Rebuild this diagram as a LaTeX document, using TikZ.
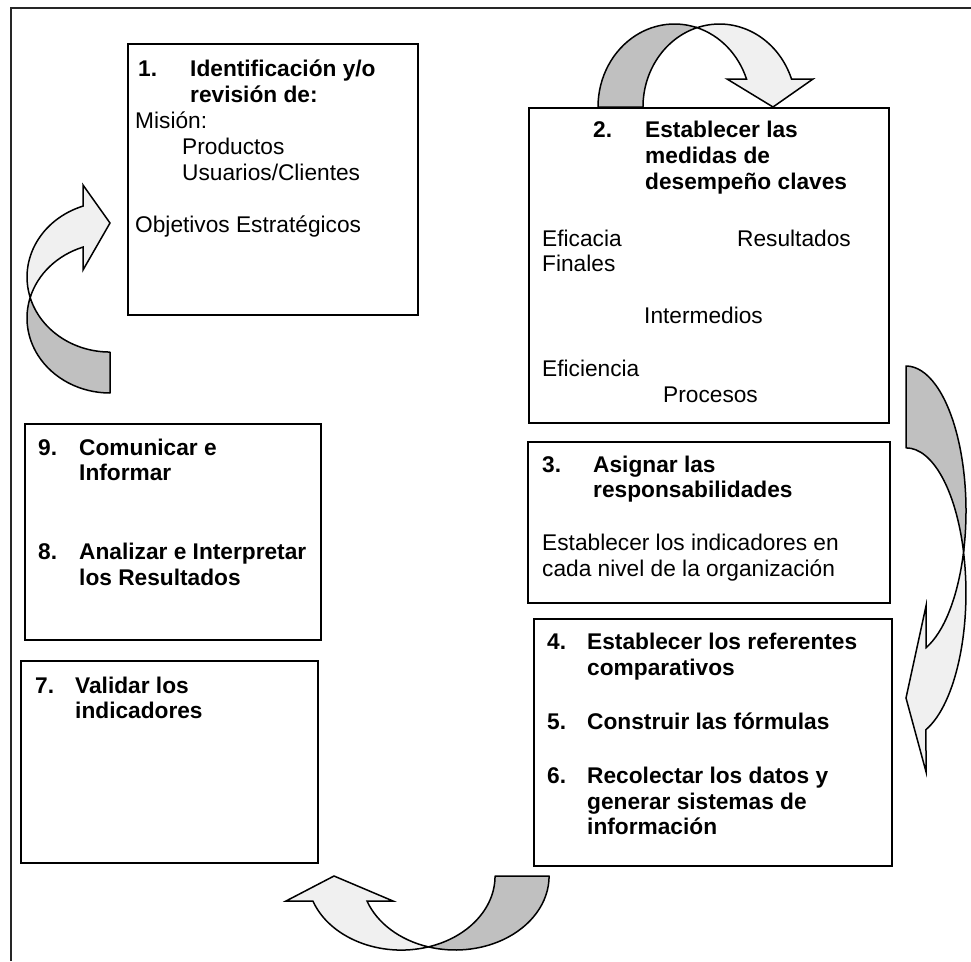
\documentclass[tikz,border=0pt]{standalone}
\usepackage{fontspec}
\setmainfont{Liberation Sans}
\definecolor{arrowdark}{RGB}{192,192,192}
\definecolor{arrowlight}{RGB}{240,240,240}
\begin{document}
\begin{tikzpicture}[x=1pt,y=-1pt,
  box/.style={draw, line width=1.8pt, inner sep=0, anchor=north west},
  txt/.style={anchor=base west, inner sep=0, font=\fontsize{22.7}{26}\selectfont},
  btxt/.style={anchor=base west, inner sep=0, font=\fontsize{22.7}{26}\selectfont\bfseries},
  backband/.style={fill=arrowdark, draw, line width=1.5pt, line join=round},
  frontband/.style={fill=arrowlight, draw, line width=1.5pt, line join=miter}]
\useasboundingbox (0,0) rectangle (971,961);
% outer frame
\draw[line width=1.6pt, black!85] (11,961) -- (11,8) -- (971,8);

% boxes
\node[box, minimum width=290, minimum height=271] (b1) at (127,43) {};
\node[box, minimum width=360, minimum height=315] (b2) at (528,107) {};
\node[box, minimum width=362, minimum height=161] (b3) at (527,441) {};
\node[box, minimum width=358, minimum height=247] (b4) at (533,618) {};
\node[box, minimum width=296, minimum height=216] (b98) at (24,423) {};
\node[box, minimum width=297, minimum height=202] (b7) at (20,660) {};

% box 1
\node[btxt] (t1n) at (138,76) {1.};
\node[btxt] (t1a) at (190,76) {Identificación y/o};
\node[btxt] (t1b) at (190,102) {revisión de:};
\node[txt] (t1c) at (135,128) {Misión:};
\node[txt] (t1d) at (182,154) {Productos};
\node[txt] (t1e) at (182,180) {Usuarios/Clientes};
\node[txt] (t1f) at (135,232) {Objetivos Estratégicos};

% box 2
\node[btxt] (t2n) at (593,137) {2.};
\node[btxt] (t2a) at (645,137) {Establecer las};
\node[btxt] (t2b) at (645,163) {medidas de};
\node[btxt] (t2c) at (645,189) {desempeño claves};
\node[txt] (t2d) at (542,246) {Eficacia};
\node[txt] (t2e) at (737,246) {Resultados};
\node[txt] (t2f) at (542,271) {Finales};
\node[txt] (t2g) at (644,323) {Intermedios};
\node[txt] (t2h) at (542,376) {Eficiencia};
\node[txt] (t2i) at (663,402) {Procesos};

% box 3
\node[btxt] (t3n) at (542,472) {3.};
\node[btxt] (t3a) at (593,472) {Asignar las};
\node[btxt] (t3b) at (593,497) {responsabilidades};
\node[txt] (t3c) at (542,550) {Establecer los indicadores en};
\node[txt] (t3d) at (542,576) {cada nivel de la organización};

% box 4
\node[btxt] (t4n) at (547,649) {4.};
\node[btxt] (t4a) at (587,649) {Establecer los referentes};
\node[btxt] (t4b) at (587,675) {comparativos};
\node[btxt] (t5n) at (547,729) {5.};
\node[btxt] (t5a) at (587,729) {Construir las fórmulas};
\node[btxt] (t6n) at (547,783) {6.};
\node[btxt] (t6a) at (587,783) {Recolectar los datos y};
\node[btxt] (t6b) at (587,809) {generar sistemas de};
\node[btxt] (t6c) at (587,834) {información};

% box 9/8
\node[btxt] (t9n) at (38,455) {9.};
\node[btxt] (t9a) at (79,455) {Comunicar e};
\node[btxt] (t9b) at (79,480) {Informar};
\node[btxt] (t8n) at (38,559) {8.};
\node[btxt] (t8a) at (79,559) {Analizar e Interpretar};
\node[btxt] (t8b) at (79,585) {los Resultados};

% box 7
\node[btxt] (t7n) at (35,693) {7.};
\node[btxt] (t7a) at (75,693) {Validar los};
\node[btxt] (t7b) at (75,718) {indicadores};

% top curved arrow (down)
\draw[backband] (598,107) arc[start angle=180, end angle=287.1, x radius=76.5, y radius=83]
  arc[start angle=252.9, end angle=180, x radius=76.5, y radius=83] -- cycle;
\draw[frontband] (697,27.7) arc[start angle=252.9, end angle=340.3, x radius=76.5, y radius=83]
  -- (813,79) -- (773,107) -- (727,79) -- (746.5,79)
  arc[start angle=340.3, end angle=287.1, x radius=76.5, y radius=83] -- cycle;

% left curved arrow (right)
\draw[backband] (110,393) arc[start angle=90, end angle=195.85, x radius=83, y radius=75]
  arc[start angle=164.15, end angle=90, x radius=83, y radius=75] -- cycle;
\draw[frontband] (30.2,297.5) arc[start angle=164.15, end angle=251, x radius=83, y radius=75]
  -- (83,185) -- (110,223) -- (83,270) -- (83,247.1)
  arc[start angle=251, end angle=195.85, x radius=83, y radius=75] -- cycle;

% right curved arrow (left)
\draw[backband] (906,366) arc[start angle=270, end angle=376.4, x radius=60, y radius=145]
  arc[start angle=343.6, end angle=270, x radius=60, y radius=145] -- cycle;
\draw[frontband] (963.5,552) arc[start angle=-16.4, end angle=70.5, x radius=60, y radius=145]
  -- (926,771.7) -- (906,698) -- (926,606) -- (926,647.7)
  arc[start angle=70.5, end angle=16.4, x radius=60, y radius=145] -- cycle;

% bottom curved arrow (up)
\draw[backband] (549.1,876) arc[start angle=0, end angle=106.7, x radius=93.8, y radius=74]
  arc[start angle=73.2, end angle=0, x radius=93.8, y radius=74] -- cycle;
\draw[frontband] (428.3,946.9) arc[start angle=73.2, end angle=160.25, x radius=93.8, y radius=74]
  -- (286,901) -- (334,876) -- (393,901) -- (367.0,901)
  arc[start angle=160.25, end angle=106.7, x radius=93.8, y radius=74] -- cycle;
\end{tikzpicture}
\end{document}
